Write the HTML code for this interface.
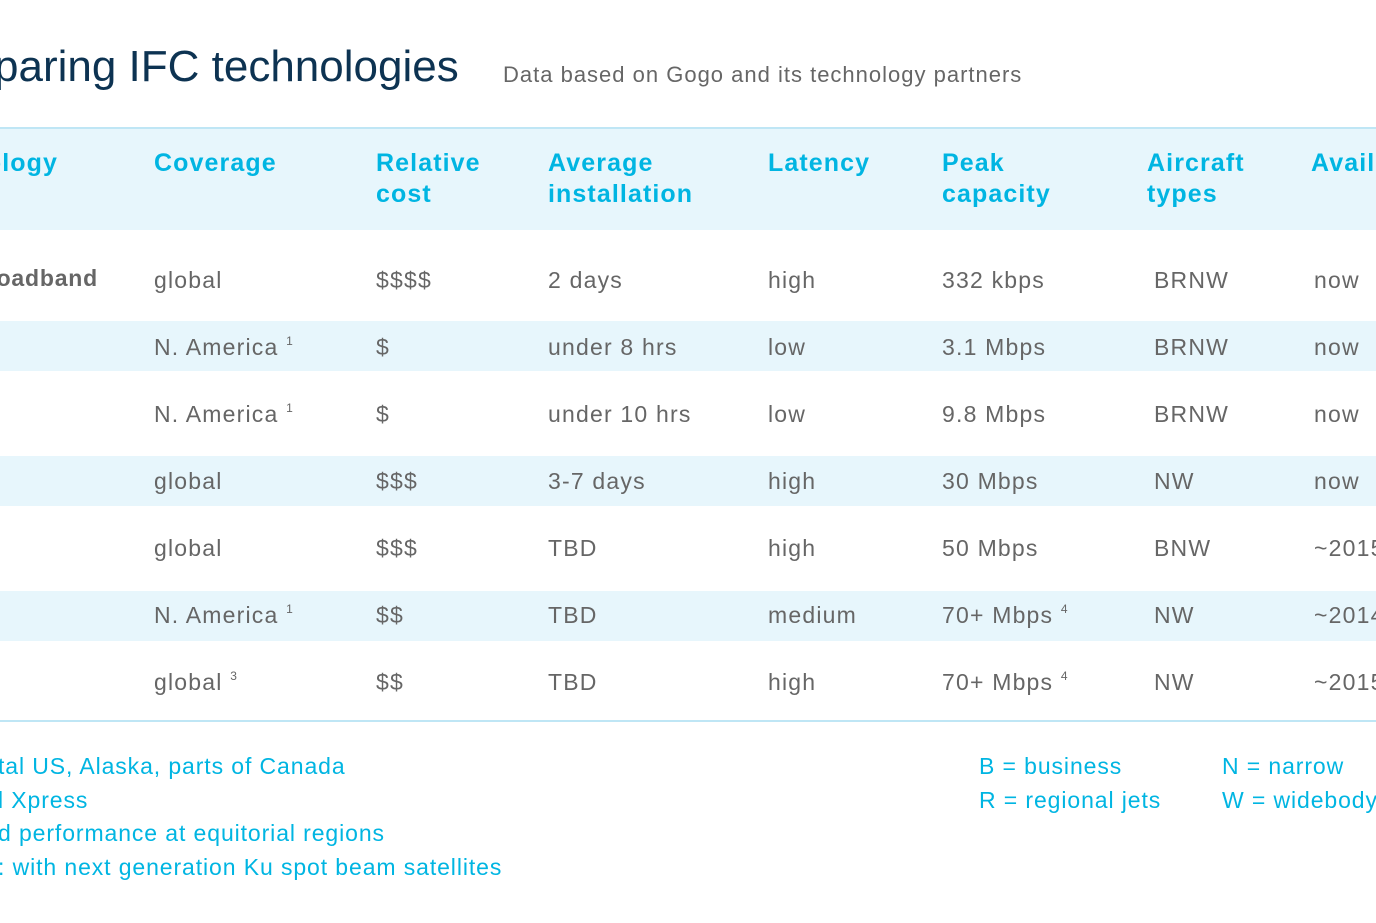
<!DOCTYPE html>
<html><head><meta charset="utf-8"><style>
body{margin:0;width:1376px;height:923px;overflow:hidden;background:#fff;font-family:"Liberation Sans",sans-serif;position:relative}
.a{position:absolute;white-space:nowrap}
.h{color:#00b5e2;font-weight:bold;font-size:25px;line-height:31px;top:148px;letter-spacing:1.1px}
.c{color:#666;font-size:23px;line-height:24px;letter-spacing:1.2px}
.f{color:#00b5e2;font-size:23px;line-height:24px;letter-spacing:0.9px}
sup{font-size:12px;vertical-align:baseline;position:relative;top:-10px;line-height:0}
.band{position:absolute;left:0;width:1376px;background:#e7f6fc}
</style></head><body>
<div class="a" style="left:-6px;top:40px;font-size:44px;color:#0d3352;line-height:54px">paring IFC technologies</div>
<div class="a" style="left:503px;top:62px;font-size:22px;color:#666;letter-spacing:1px">Data based on Gogo and its technology partners</div>
<div class="band" style="top:127px;height:101px;border-top:2px solid #bfe6f5"></div>
<div class="band" style="top:321px;height:50px"></div>
<div class="band" style="top:456px;height:50px"></div>
<div class="band" style="top:591px;height:50px"></div>
<div class="a" style="left:0;top:720px;width:1376px;height:2px;background:#bfe6f5"></div>
<div class="a h" style="right:1318px">Technology</div>
<div class="a h" style="left:154px">Coverage</div>
<div class="a h" style="left:376px">Relative<br>cost</div>
<div class="a h" style="left:548px">Average<br>installation</div>
<div class="a h" style="left:768px">Latency</div>
<div class="a h" style="left:942px">Peak<br>capacity</div>
<div class="a h" style="left:1147px">Aircraft<br>types</div>
<div class="a h" style="left:1311px">Availability</div>
<div class="a c" style="right:1278px;top:266px;font-weight:bold;letter-spacing:0.8px">Broadband</div>
<div id="rows"></div>
<div class="a f" style="left:-2px;top:754px">tal US, Alaska, parts of Canada</div>
<div class="a f" style="left:-2px;top:788px">l Xpress</div>
<div class="a f" style="left:-2px;top:821px">d performance at equitorial regions</div>
<div class="a f" style="left:-2px;top:855px">: with next generation Ku spot beam satellites</div>
<div class="a f" style="left:979px;top:754px">B = business</div>
<div class="a f" style="left:979px;top:788px">R = regional jets</div>
<div class="a f" style="left:1222px;top:754px">N = narrow</div>
<div class="a f" style="left:1222px;top:788px">W = widebody</div>
<script>
const coverage=["global","N. America <sup>1</sup>","N. America <sup>1</sup>","global","global","N. America <sup>1</sup>","global <sup>3</sup>"];
const cost=["$$$$","$","$","$$$","$$$","$$","$$"];
const install=["2 days","under 8 hrs","under 10 hrs","3-7 days","TBD","TBD","TBD"];
const latency=["high","low","low","high","high","medium","high"];
const capacity=["332 kbps","3.1 Mbps","9.8 Mbps","30 Mbps","50 Mbps","70+ Mbps <sup>4</sup>","70+ Mbps <sup>4</sup>"];
const aircraft=["BRNW","BRNW","BRNW","NW","BNW","NW","NW"];
const avail=["now","now","now","now","~2015","~2014","~2015"];
const cols=[[coverage,154,"coverage"],[cost,376,"cost"],[install,548,"installation"],[latency,768,"latency"],[capacity,942,"capacity"],[aircraft,1154,"aircraft"],[avail,1314,"availability"]];
const host=document.getElementById('rows');
for(let r=0;r<7;r++){
  cols.forEach(([arr,x,n])=>{
    const d=document.createElement('div');
    d.className='a c';
    d.style.left=x+'px';d.style.top=(268+67*r)+'px';
    d.innerHTML=arr[r];
    
    
    host.appendChild(d);
  });
}
</script>
</body></html>
